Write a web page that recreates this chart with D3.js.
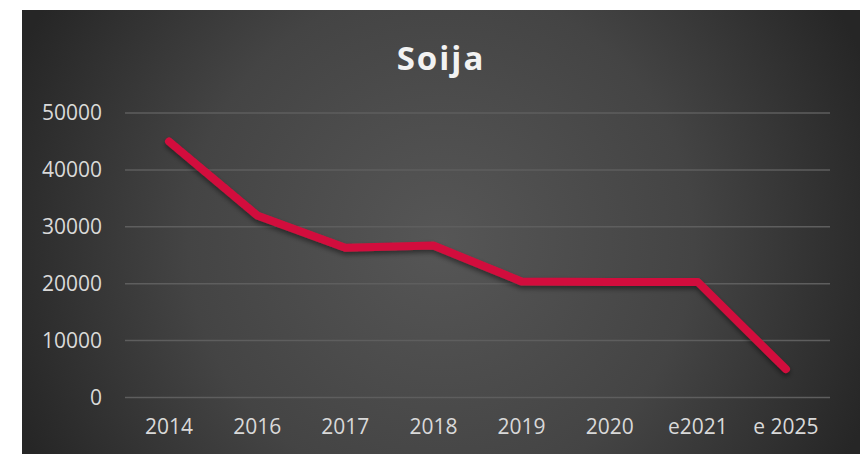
<!DOCTYPE html>
<html>
<head>
<meta charset="utf-8">
<script src="https://cdn.jsdelivr.net/npm/d3@7"></script>
<style>
  body { margin: 0; background: #fff; }
</style>
</head>
<body>
<script>
/* -----------------------------------------------------
 *  Data
 ----------------------------------------------------- */
const title = "Soija";
const categories = ["2014", "2016", "2017", "2018", "2019", "2020", "e2021", "e 2025"];
const values = [45000, 32000, 26300, 26700, 20400, 20300, 20300, 5000];
const yTicks = [0, 10000, 20000, 30000, 40000, 50000];

/* -----------------------------------------------------
 *  Initial SVG setup
 ----------------------------------------------------- */
const width = 866;
const height = 454;
const frame = { x: 22, y: 10, w: 838, h: 444 };
const plot = { left: 125, right: 830, top: 113, bottom: 397.5 };

const svg = d3
  .select("body")
  .append("svg")
  .attr("width", width)
  .attr("height", height);

const defs = svg.append("defs");

const bg = defs
  .append("radialGradient")
  .attr("id", "bg")
  .attr("gradientUnits", "userSpaceOnUse")
  .attr("cx", 441)
  .attr("cy", 240)
  .attr("r", 460);
bg.append("stop").attr("offset", "0%").attr("stop-color", "#565656");
bg.append("stop").attr("offset", "55%").attr("stop-color", "#444444");
bg.append("stop").attr("offset", "100%").attr("stop-color", "#262626");

const shadow = defs
  .append("filter")
  .attr("id", "shadow")
  .attr("x", "-10%")
  .attr("y", "-10%")
  .attr("width", "120%")
  .attr("height", "130%");
shadow
  .append("feDropShadow")
  .attr("dx", 0)
  .attr("dy", 3)
  .attr("stdDeviation", 2.5)
  .attr("flood-color", "#000")
  .attr("flood-opacity", 0.45);

svg
  .append("rect")
  .attr("x", frame.x)
  .attr("y", frame.y)
  .attr("width", frame.w)
  .attr("height", frame.h)
  .attr("fill", "url(#bg)");

/* -----------------------------------------------------
 *  Scales
 ----------------------------------------------------- */
const x = d3
  .scaleBand()
  .domain(categories)
  .range([plot.left, plot.right]);

const y = d3
  .scaleLinear()
  .domain([0, 50000])
  .range([plot.bottom, plot.top]);

/* -----------------------------------------------------
 *  Gridlines and axes
 ----------------------------------------------------- */
svg
  .selectAll(".grid")
  .data(yTicks)
  .enter()
  .append("line")
  .attr("class", "grid")
  .attr("x1", plot.left)
  .attr("x2", plot.right)
  .attr("y1", (d) => y(d))
  .attr("y2", (d) => y(d))
  .attr("stroke", "#5e5e5e")
  .attr("stroke-width", 1.5);

const yAxis = svg
  .append("g")
  .attr("transform", `translate(${plot.left - 23},0)`)
  .call(
    d3
      .axisLeft(y)
      .tickValues(yTicks)
      .tickFormat(d3.format("d"))
      .tickSize(0)
      .tickPadding(0)
  );
yAxis.select(".domain").remove();
yAxis
  .selectAll("text")
  .attr("fill", "#d9d9d9")
  .style("font-family", "Open Sans")
  .style("font-size", "21px");

const xAxis = svg
  .append("g")
  .attr("transform", `translate(0,${plot.bottom + 22})`)
  .call(d3.axisBottom(x).tickSize(0).tickPadding(0));
xAxis.select(".domain").remove();
xAxis
  .selectAll("text")
  .attr("dy", "0.71em")
  .attr("fill", "#d9d9d9")
  .style("font-family", "Open Sans")
  .style("font-size", "21px");

/* -----------------------------------------------------
 *  Line
 ----------------------------------------------------- */
const line = d3
  .line()
  .x((d, i) => x(categories[i]) + x.bandwidth() / 2)
  .y((d) => y(d));

svg
  .append("path")
  .datum(values)
  .attr("d", line)
  .attr("fill", "none")
  .attr("stroke", "#d2103c")
  .attr("stroke-width", 8)
  .attr("stroke-linecap", "round")
  .attr("stroke-linejoin", "round")
  .attr("filter", "url(#shadow)");

/* -----------------------------------------------------
 *  Title
 ----------------------------------------------------- */
svg
  .append("text")
  .attr("x", frame.x + frame.w / 2)
  .attr("y", 70)
  .attr("text-anchor", "middle")
  .attr("fill", "#f2f2f2")
  .style("font-family", "Open Sans")
  .style("font-weight", "bold")
  .style("font-size", "33px")
  .style("letter-spacing", "2px")
  .text(title);
</script>
</body>
</html>
